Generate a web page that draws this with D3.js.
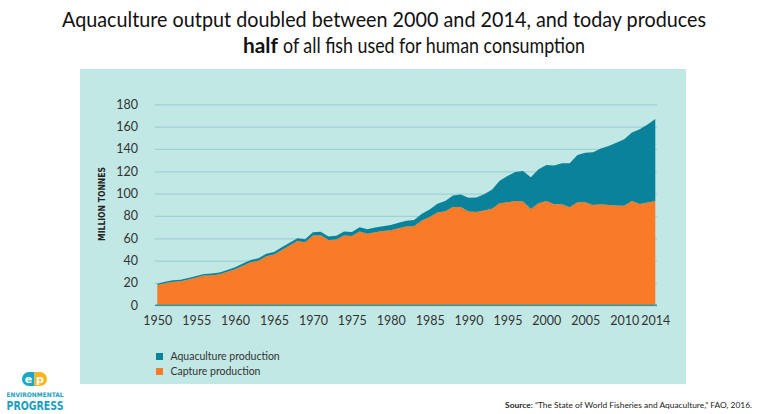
<!DOCTYPE html>
<html><head><meta charset="utf-8">
<script src="https://cdn.jsdelivr.net/npm/d3@7"></script>
<style>
html,body{margin:0;padding:0;background:#fff;}
svg{display:block;}
</style></head>
<body>
<svg id="chart" width="765" height="414"></svg>
<script>
const years = d3.range(1950, 2015);
const capture = [18.1,19.8,21.2,21.5,23.0,24.8,26.6,27.0,27.8,30.0,
  32.2,35.5,38.5,40.0,44.0,45.5,49.5,53.5,57.5,56.5,
  62.5,62.8,58.5,59.0,62.5,62.0,66.0,64.0,65.5,66.5,
  67.2,69.0,70.5,70.8,76.0,79.0,83.0,84.3,88.0,88.0,
  84.0,83.5,85.0,86.5,91.5,92.3,93.3,93.0,86.3,91.5,
  93.4,90.6,90.5,87.8,92.3,92.3,89.9,90.4,89.9,89.4,
  89.1,93.4,90.8,92.0,93.4];
const aquaculture = [1.2,1.2,1.3,1.3,1.4,1.4,1.5,1.5,1.6,1.7,
  1.8,1.9,2.0,2.1,2.2,2.3,2.4,2.5,2.6,2.7,
  2.9,3.0,3.2,3.3,3.5,3.7,3.9,4.0,4.2,4.4,
  4.6,5.0,5.2,5.6,6.0,6.8,7.9,9.0,10.4,11.2,
  12.4,13.0,14.5,17.0,20.0,23.5,26.0,27.3,28.3,30.3,
  32.2,34.5,36.6,39.5,42.3,44.3,47.1,50.0,52.8,56.2,
  59.5,61.4,66.9,70.0,73.4];
const xTicks = [1950,1955,1960,1965,1970,1975,1980,1985,1990,1995,2000,2005,2010,2014];
const yTicks = [0,20,40,60,80,100,120,140,160,180];
const seriesNames = ["Aquaculture production","Capture production"];
const colors = {aquaculture:"#0A8299", capture:"#FA7B27"};

const svg = d3.select("#chart");
const font = "'Futura','Century Gothic','Lato','DejaVu Sans',sans-serif";
const tfont = "Lato, 'Open Sans', sans-serif";

// Title
svg.append("text").attr("x",62).attr("y",27)
  .attr("font-family",tfont).attr("font-size",21).attr("fill","#111")
  .attr("textLength",644).attr("lengthAdjust","spacingAndGlyphs")
  .text("Aquaculture output doubled between 2000 and 2014, and today produces");
svg.append("text").attr("x",243).attr("y",53)
  .attr("font-family",tfont).attr("font-size",21).attr("font-weight","bold").attr("fill","#111")
  .attr("textLength",35).attr("lengthAdjust","spacingAndGlyphs").text("half");
svg.append("text").attr("x",283).attr("y",53)
  .attr("font-family",tfont).attr("font-size",21).attr("fill","#111")
  .attr("textLength",302).attr("lengthAdjust","spacingAndGlyphs").text("of all fish used for human consumption");

// panel
svg.append("rect").attr("x",80).attr("y",69).attr("width",606).attr("height",315).attr("fill","#C2E8E5");

const x = d3.scaleLinear().domain([1950,2014]).range([157.3,655.3]);
const y = d3.scaleLinear().domain([0,180]).range([305.3,104.3]);

// gridlines
const grid = svg.append("g").attr("transform","translate(155,0)")
  .call(d3.axisLeft(y).tickValues(yTicks).tickSize(-502).tickFormat(""));
grid.select(".domain").remove();
grid.selectAll("line").attr("stroke","#9CD2D3").attr("stroke-width",1.3);

// stacked data
const data = years.map((yr,i)=>({year:yr, capture:capture[i], aquaculture:aquaculture[i]}));
const stack = d3.stack().keys(["capture","aquaculture"]);
const stacked = stack(data);
const area = d3.area().x(d=>x(d.data.year)).y0(d=>y(d[0])).y1(d=>y(d[1])).curve(d3.curveLinear);
svg.append("g").selectAll("path").data(stacked).join("path")
  .attr("d",area).attr("fill",d=>colors[d.key]);

// baseline
svg.append("line").attr("x1",155).attr("x2",657).attr("y1",y(0)).attr("y2",y(0))
  .attr("stroke","#2D9AAA").attr("stroke-width",1.5);

// y axis labels
const ya = svg.append("g").attr("transform","translate(138,0)")
  .call(d3.axisLeft(y).tickValues(yTicks).tickSize(0).tickPadding(0));
ya.select(".domain").remove();
ya.selectAll("text").attr("font-family",font).attr("font-size",12.5).attr("fill","#333");

// x axis labels
const xa = svg.append("g").attr("transform","translate(0,313)")
  .call(d3.axisBottom(x).tickValues(xTicks).tickFormat(d3.format("d")).tickSize(0).tickPadding(3));
xa.select(".domain").remove();
xa.selectAll("text").attr("font-family",font).attr("font-size",12.5).attr("fill","#333");

// y title
svg.append("text").attr("transform","translate(105,204) rotate(-90)").attr("text-anchor","middle")
  .attr("font-family","'Liberation Sans Narrow','DejaVu Sans Condensed',sans-serif").attr("font-weight","bold")
  .attr("font-size",8.5).attr("fill","#222").text("MILLION TONNES");

// legend
const leg = svg.append("g");
[["aquaculture",seriesNames[0]],["capture",seriesNames[1]]].forEach((d,i)=>{
  leg.append("rect").attr("x",156).attr("y",353+i*15).attr("width",7).attr("height",7).attr("fill",colors[d[0]]);
  leg.append("text").attr("x",170.5).attr("y",360+i*15).attr("font-family",font).attr("font-size",10.5)
    .attr("fill","#333").text(d[1]);
});

// logo
const logo = svg.append("g");
logo.append("path").attr("d","M22,379 a7,7 0 0 1 7,-7 h5.5 v14 h-5.5 a7,7 0 0 1 -7,-7z").attr("fill","#18A7C4");
logo.append("path").attr("d","M34.5,372 h5.5 a7,7 0 0 1 0,14 h-5.5z").attr("fill","#F6B621");
logo.append("text").attr("x",28.5).attr("y",382.8).attr("text-anchor","middle").attr("font-family","DejaVu Sans").attr("font-weight","bold").attr("font-size",11).attr("fill","#fff").text("e");
logo.append("text").attr("x",40).attr("y",382.8).attr("text-anchor","middle").attr("font-family","DejaVu Sans").attr("font-weight","bold").attr("font-size",11).attr("fill","#fff").text("p");
logo.append("text").attr("x",35).attr("y",397).attr("text-anchor","middle").attr("font-family","'DejaVu Sans Condensed',sans-serif").attr("font-weight","bold").attr("font-size",6.3).attr("fill","#1A9FBE").attr("textLength",57).attr("lengthAdjust","spacingAndGlyphs").text("ENVIRONMENTAL");
logo.append("text").attr("x",35).attr("y",410).attr("text-anchor","middle").attr("font-family","'DejaVu Sans Condensed',sans-serif").attr("font-weight","bold").attr("font-size",12).attr("fill","#1A9FBE").attr("textLength",57).attr("lengthAdjust","spacingAndGlyphs").text("PROGRESS");

// source
const src = svg.append("text").attr("x",752).attr("y",408).attr("text-anchor","end")
  .attr("font-family","Lato, sans-serif").attr("font-size",8.4).attr("fill","#222");
src.append("tspan").attr("font-weight","bold").text("Source");
src.append("tspan").text(": \u201CThe State of World Fisheries and Aquaculture,\u201D FAO, 2016.");
</script>
</body></html>
